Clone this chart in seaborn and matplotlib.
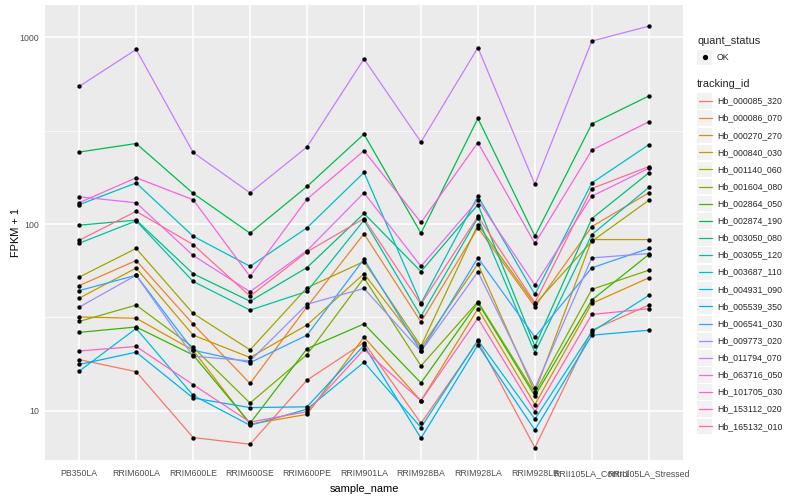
import numpy as np
import pandas as pd
import matplotlib
matplotlib.use("Agg")
import matplotlib.pyplot as plt
import seaborn as sns
from matplotlib.lines import Line2D
from matplotlib.patches import Rectangle
from matplotlib.ticker import FixedLocator, NullFormatter

# ---------------- data ----------------
samples = ["PB350LA", "RRIM600LA", "RRIM600LE", "RRIM600SE", "RRIM600PE",
           "RRIM901LA", "RRIM928BA", "RRIM928LA", "RRIM928LB",
           "RRII105LA_Control", "RRII105LA_Stressed"]

tracking_ids = ["Hb_000085_320", "Hb_000086_070", "Hb_000270_270", "Hb_000840_030",
                "Hb_001140_060", "Hb_001604_080", "Hb_002864_050", "Hb_002874_190",
                "Hb_003050_080", "Hb_003055_120", "Hb_003687_110", "Hb_004931_090",
                "Hb_005539_350", "Hb_006541_030", "Hb_009773_020", "Hb_011794_070",
                "Hb_063716_050", "Hb_101705_030", "Hb_153112_020", "Hb_165132_010"]

colors = ["#F8766D", "#EA8331", "#D89000", "#C09B00", "#A3A500", "#7CAE00",
          "#39B600", "#00BB4E", "#00BF7D", "#00C1A3", "#00BFC4", "#00BAE0",
          "#00B0F6", "#35A2FF", "#9590FF", "#C77CFF", "#E76BF3", "#FA62DB",
          "#FF62BC", "#FF6C91"]

hb_000085_320 = [18.8, 16.2, 7.19, 6.62, 14.6, 23.2, 8.57, 23.6, 6.35, 27.0, 36.8]
hb_000086_070 = [46.8, 63.8, 29.1, 14.0, 36.1, 88.7, 29.9, 95.5, 36.1, 97.0, 147]
hb_000270_270 = [31.8, 31.3, 21.1, 8.47, 9.57, 24.8, 11.3, 35.2, 10.8, 37.6, 51.5]
hb_000840_030 = [40.1, 58.1, 25.4, 19.3, 28.8, 54.2, 21.8, 61.2, 12.6, 82.6, 82.6]
hb_001140_060 = [52.0, 74.0, 33.2, 21.2, 45.6, 63.0, 22.2, 99.3, 37.2, 80.9, 134]
hb_001604_080 = [30.1, 36.8, 21.9, 11.0, 20.0, 51.5, 17.4, 38.4, 12.4, 44.7, 56.6]
hb_002864_050 = [26.3, 28.1, 19.9, 8.57, 21.5, 29.2, 14.1, 37.9, 12.0, 39.2, 68.7]
hb_002874_190 = [243, 270, 146, 89.3, 159, 303, 89.3, 368, 86.1, 344, 485]
hb_003050_080 = [98.6, 105, 54.2, 38.6, 58.5, 114, 55.7, 127, 22.2, 107, 188]
hb_003055_120 = [78.9, 104, 49.3, 34.6, 43.6, 105, 32.1, 108, 20.5, 87.9, 157]
hb_003687_110 = [127, 166, 86.1, 59.4, 95.5, 189, 37.6, 141, 42.0, 166, 266]
hb_004931_090 = [16.3, 27.6, 12.1, 8.36, 10.2, 18.2, 8.13, 23.9, 9.02, 26.5, 41.5]
hb_005539_350 = [17.7, 20.6, 11.7, 10.4, 10.5, 22.4, 7.13, 22.5, 7.89, 25.4, 27.0]
hb_006541_030 = [44.0, 53.2, 21.1, 18.1, 25.4, 65.0, 20.8, 65.9, 24.8, 58.3, 74.0]
hb_009773_020 = [35.9, 53.2, 19.6, 18.5, 37.2, 45.2, 20.8, 55.5, 13.2, 65.9, 69.5]
hb_011794_070 = [546, 861, 242, 147, 259, 767, 275, 881, 163, 955, 1148]
hb_063716_050 = [140, 130, 67.9, 43.4, 72.1, 147, 59.4, 134, 47.1, 141, 199]
hb_101705_030 = [130, 177, 135, 52.4, 136, 247, 102, 273, 78.7, 249, 353]
hb_153112_020 = [20.9, 22.1, 13.8, 8.69, 9.9, 21.3, 11.3, 31.3, 9.9, 32.8, 35.2]
hb_165132_010 = [81.8, 117, 77.6, 41.1, 71.0, 107, 37.2, 110, 37.9, 155, 203]

series = [hb_000085_320, hb_000086_070, hb_000270_270, hb_000840_030, hb_001140_060,
          hb_001604_080, hb_002864_050, hb_002874_190, hb_003050_080, hb_003055_120,
          hb_003687_110, hb_004931_090, hb_005539_350, hb_006541_030, hb_009773_020,
          hb_011794_070, hb_063716_050, hb_101705_030, hb_153112_020, hb_165132_010]

rows = []
for tid, vals in zip(tracking_ids, series):
    for s, v in zip(samples, vals):
        rows.append({"tracking_id": tid, "sample_name": s, "fpkm": v, "quant_status": "OK"})
df = pd.DataFrame(rows)
df["sample_name"] = pd.Categorical(df["sample_name"], categories=samples, ordered=True)
df["xpos"] = df["sample_name"].cat.codes

# ---------------- style ----------------
sns.set_style("darkgrid", {"axes.facecolor": "#EBEBEB", "grid.color": "white"})
plt.rcParams["font.family"] = ["Liberation Sans", "DejaVu Sans"]

W, H = 800, 500
fig = plt.figure(figsize=(8, 5), dpi=100)
L, R, T, B = 45, 683, 5, 460
ax = fig.add_axes([L / W, 1 - B / H, (R - L) / W, (B - T) / H])

sns.lineplot(data=df, x="xpos", y="fpkm", hue="tracking_id", hue_order=tracking_ids,
             palette=colors, estimator=None, sort=False, legend=False,
             linewidth=0.9, ax=ax, zorder=2)
sns.scatterplot(data=df, x="xpos", y="fpkm", color="black", s=10, linewidth=0,
                legend=False, ax=ax, zorder=3)

ax.set_yscale("log")
ax.set_ylim(5.45, 1490)
ax.set_xlim(-0.6, len(samples) - 0.4)

ax.xaxis.set_major_locator(FixedLocator(range(len(samples))))
ax.set_xticklabels(samples)
ax.yaxis.set_major_locator(FixedLocator([10, 100, 1000]))
ax.set_yticklabels(["10", "100", "1000"])
ax.yaxis.set_minor_locator(FixedLocator([10 ** 1.5, 10 ** 2.5]))
ax.yaxis.set_minor_formatter(NullFormatter())

ax.grid(True, which="major", color="white", linewidth=1.1)
ax.grid(True, which="minor", axis="y", color="white", linewidth=0.5)
ax.grid(False, which="minor", axis="x")
for sp in ax.spines.values():
    sp.set_visible(False)

ax.tick_params(axis="both", which="major", length=2.8, width=0.8, color="#333333",
               labelsize=6.3, labelcolor="#4D4D4D", pad=1.5)
ax.tick_params(axis="x", which="major", pad=4)
ax.tick_params(axis="both", which="minor", length=0)
ax.set_xlabel("sample_name", fontsize=7.9, color="black", labelpad=4)
ax.set_ylabel("FPKM + 1", fontsize=7.9, color="black", labelpad=-1)

# ---------------- legend (ggplot style) ----------------
def fx(px):
    return px / W

def fy(py):
    return 1 - py / H

fig.text(fx(697), fy(41), "quant_status", fontsize=7.9, va="center", ha="left")
fig.patches.append(Rectangle((fx(697), fy(65)), 15.4 / W, 15.4 / H,
                             transform=fig.transFigure, facecolor="#F2F2F2",
                             edgecolor="none"))
fig.add_artist(Line2D([fx(705)], [fy(57.3)], marker="o", markersize=2.8,
                      color="black", linestyle="none", transform=fig.transFigure))
fig.text(fx(717), fy(57.3), "OK", fontsize=6.3, va="center", ha="left")

fig.text(fx(697), fy(84), "tracking_id", fontsize=7.9, va="center", ha="left")
y0, dy = 101, 17.12
for i, (tid, c) in enumerate(zip(tracking_ids, colors)):
    yc = y0 + i * dy
    fig.patches.append(Rectangle((fx(697), fy(yc + 7.7)), 15.4 / W, 15.4 / H,
                                 transform=fig.transFigure, facecolor="#F2F2F2",
                                 edgecolor="none"))
    fig.add_artist(Line2D([fx(698.5), fx(711.5)], [fy(yc), fy(yc)], color=c,
                          linewidth=0.9, transform=fig.transFigure))
    fig.text(fx(717), fy(yc), tid, fontsize=6.3, va="center", ha="left")

fig.savefig("out.png", dpi=100)
